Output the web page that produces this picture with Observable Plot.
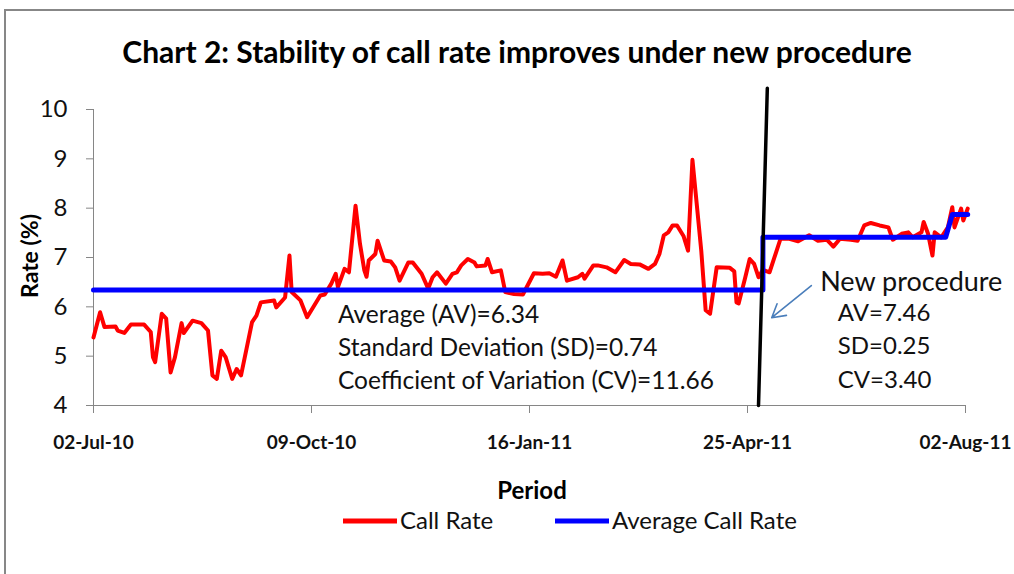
<!DOCTYPE html>
<html><head><meta charset="utf-8">
<script src="https://cdn.jsdelivr.net/npm/d3@7"></script>
<script src="https://cdn.jsdelivr.net/npm/@observablehq/plot@0.6"></script>
<style>
html,body{margin:0;padding:0;background:#fff;}
#chart{position:relative;width:1014px;height:574px;overflow:hidden;}
</style></head><body><div id="chart"></div>
<script>
const rateDates = ["2010-07-02","2010-07-05","2010-07-07","2010-07-12","2010-07-13","2010-07-16","2010-07-19","2010-07-25","2010-07-28","2010-07-29","2010-07-30","2010-08-02","2010-08-04","2010-08-06","2010-08-08","2010-08-11","2010-08-12","2010-08-16","2010-08-20","2010-08-23","2010-08-25","2010-08-27","2010-08-29","2010-08-31","2010-09-03","2010-09-05","2010-09-07","2010-09-12","2010-09-14","2010-09-16","2010-09-22","2010-09-23","2010-09-27","2010-09-29","2010-09-30","2010-10-04","2010-10-07","2010-10-13","2010-10-15","2010-10-18","2010-10-20","2010-10-21","2010-10-24","2010-10-26","2010-10-29","2010-10-31","2010-11-02","2010-11-03","2010-11-04","2010-11-07","2010-11-08","2010-11-11","2010-11-14","2010-11-16","2010-11-18","2010-11-22","2010-11-24","2010-11-28","2010-12-01","2010-12-03","2010-12-05","2010-12-09","2010-12-12","2010-12-14","2010-12-16","2010-12-19","2010-12-22","2010-12-23","2010-12-27","2010-12-28","2010-12-30","2011-01-03","2011-01-05","2011-01-09","2011-01-13","2011-01-18","2011-01-22","2011-01-25","2011-01-28","2011-01-31","2011-02-02","2011-02-07","2011-02-09","2011-02-10","2011-02-14","2011-02-16","2011-02-20","2011-02-24","2011-02-28","2011-03-03","2011-03-07","2011-03-11","2011-03-14","2011-03-16","2011-03-18","2011-03-20","2011-03-22","2011-03-24","2011-03-27","2011-03-29","2011-03-31","2011-04-04","2011-04-06","2011-04-08","2011-04-11","2011-04-17","2011-04-19","2011-04-20","2011-04-21","2011-04-24","2011-04-26","2011-04-28","2011-04-30","2011-05-02","2011-05-05","2011-05-07","2011-05-10","2011-05-14","2011-05-18","2011-05-23","2011-05-27","2011-05-31","2011-06-03","2011-06-06","2011-06-11","2011-06-14","2011-06-17","2011-06-20","2011-06-24","2011-06-28","2011-06-30","2011-07-04","2011-07-07","2011-07-09","2011-07-13","2011-07-14","2011-07-16","2011-07-18","2011-07-19","2011-07-22","2011-07-25","2011-07-27","2011-07-28","2011-07-31","2011-08-01","2011-08-03"];
const rateValues = [5.38,5.89,5.59,5.60,5.52,5.47,5.64,5.64,5.49,4.98,4.88,5.86,5.76,4.67,4.98,5.67,5.47,5.72,5.67,5.52,4.61,4.54,5.11,4.98,4.54,4.74,4.61,5.69,5.82,6.09,6.13,5.99,6.19,7.04,6.30,6.13,5.79,6.23,6.25,6.47,6.67,6.40,6.77,6.70,8.05,7.28,6.74,6.61,6.94,7.07,7.34,6.94,6.92,6.80,6.53,6.90,6.90,6.67,6.37,6.60,6.70,6.47,6.67,6.70,6.84,6.97,6.90,6.82,6.84,6.97,6.70,6.74,6.30,6.26,6.25,6.68,6.67,6.68,6.61,6.94,6.53,6.60,6.67,6.57,6.84,6.84,6.80,6.70,6.95,6.87,6.86,6.77,6.87,7.07,7.45,7.51,7.65,7.65,7.43,7.14,8.98,7.14,5.93,5.86,6.80,6.79,6.72,6.09,6.07,6.60,6.97,6.87,6.60,6.75,6.70,6.97,7.38,7.38,7.33,7.45,7.34,7.36,7.22,7.38,7.36,7.34,7.65,7.70,7.65,7.61,7.36,7.48,7.51,7.41,7.51,7.72,7.48,7.04,7.51,7.41,7.61,8.02,7.61,7.99,7.75,7.99];
const avgDates = ["2010-07-02","2011-05-02","2011-05-02","2011-07-24","2011-07-27","2011-08-03"];
const avgValues = [6.34,6.34,7.41,7.41,7.87,7.87];
const yTicks = [4,5,6,7,8,9,10];
const xTickDates = ["2010-07-02","2010-10-09","2011-01-16","2011-04-25","2011-08-02"];
const dividerDates = ["2011-04-30","2011-05-04"];
const dividerValues = [4, 10.43];
const arrowDates = ["2011-05-24","2011-05-06"];
const arrowValues = [6.43, 5.78];
const noteTexts = ["Average (AV)=6.34","Standard Deviation (SD)=0.74","Coefficient of Variation (CV)=11.66"];
const noteDates = ["2010-10-21","2010-10-21","2010-10-21"];
const noteValues = [5.84,5.17,4.50];
const newNoteTexts = ["AV=7.46","SD=0.25","CV=3.40"];
const newNoteDates = ["2011-06-05","2011-06-05","2011-06-05"];
const newNoteValues = [5.86,5.19,4.52];
const newTitleText = "New procedure";
const newTitleDate = "2011-05-28";
const newTitleValue = 6.49;

const parse = d3.utcParse("%Y-%m-%d");
const rate = rateDates.map((d,i)=>({date:parse(d), value:rateValues[i]}));
const avg = avgDates.map((d,i)=>({date:parse(d), value:avgValues[i]}));
const divider = dividerDates.map((d,i)=>({date:parse(d), value:dividerValues[i]}));
const arrow = [{x1:parse(arrowDates[0]), y1:arrowValues[0], x2:parse(arrowDates[1]), y2:arrowValues[1]}];
const notes = noteTexts.map((t,i)=>({text:t, date:parse(noteDates[i]), value:noteValues[i]}));
const newNotes = newNoteTexts.map((t,i)=>({text:t, date:parse(newNoteDates[i]), value:newNoteValues[i]}));
const start = parse(xTickDates[0]);

const svg = Plot.plot({
  width:1014, height:574, marginTop:109, marginBottom:169, marginLeft:93, marginRight:49,
  style:{fontFamily:"Lato, sans-serif", background:"white", color:"black", overflow:"visible"},
  x:{type:"utc", domain:[start, parse(xTickDates[xTickDates.length-1])]},
  y:{domain:[4,10]},
  marks:[
    Plot.ruleX([start], {stroke:"#868686", strokeWidth:1}),
    Plot.ruleY([4], {stroke:"#868686", strokeWidth:1}),
    Plot.axisY({ticks:yTicks, tickFormat:d3.format("d"), tickSize:7, tickPadding:19, fontSize:24, stroke:"#868686", fill:"#111", label:null}),
    Plot.axisX({ticks:xTickDates.map(parse), tickFormat:d3.utcFormat("%d-%b-%y"), tickSize:8, tickPadding:22, fontSize:19, fontWeight:"bold", stroke:"#868686", fill:"#111", label:null}),
    Plot.line(rate, {x:"date", y:"value", stroke:"#ff0000", strokeWidth:4}),
    Plot.line(avg, {x:"date", y:"value", stroke:"#0000ff", strokeWidth:5}),
    Plot.line(divider, {x:"date", y:"value", stroke:"#000", strokeWidth:3.5}),
    Plot.arrow(arrow, {x1:"x1", y1:"y1", x2:"x2", y2:"y2", stroke:"#4a7ebb", strokeWidth:1.6, headLength:14, bend:0}),
    Plot.text(notes, {x:"date", y:"value", text:"text", textAnchor:"start", fontSize:24.5, fill:"#111"}),
    Plot.text(newNotes, {x:"date", y:"value", text:"text", textAnchor:"start", fontSize:24, fill:"#111"}),
    Plot.text([newTitleText], {x:parse(newTitleDate), y:newTitleValue, text:d=>d, textAnchor:"start", fontSize:27, fill:"#111"})
  ]
});

const s = d3.select(svg);
s.append("rect").attr("x",5).attr("y",10).attr("width",1100).attr("height",700)
  .attr("fill","none").attr("stroke","#878787").attr("stroke-width",2);
s.append("text").attr("x",517).attr("y",63).attr("text-anchor","middle")
  .attr("font-size",30).attr("font-weight","bold").attr("fill","#000")
  .text("Chart 2: Stability of call rate improves under new procedure");
s.append("text").attr("x",532).attr("y",499).attr("text-anchor","middle")
  .attr("font-size",24).attr("font-weight","bold").attr("fill","#000").text("Period");
s.append("text").attr("transform","translate(38,256) rotate(-90)").attr("text-anchor","middle")
  .attr("font-size",23).attr("font-weight","bold").attr("fill","#000").text("Rate (%)");
const legend = [{label:"Call Rate", color:"#ff0000", x:343}, {label:"Average Call Rate", color:"#0000ff", x:555}];
legend.forEach(l=>{
  s.append("line").attr("x1",l.x).attr("x2",l.x+54).attr("y1",521).attr("y2",521)
    .attr("stroke",l.color).attr("stroke-width",5);
  s.append("text").attr("x",l.x+57).attr("y",529).attr("text-anchor","start")
    .attr("font-size",24).attr("fill","#111").text(l.label);
});
document.getElementById("chart").appendChild(svg);
</script></body></html>
